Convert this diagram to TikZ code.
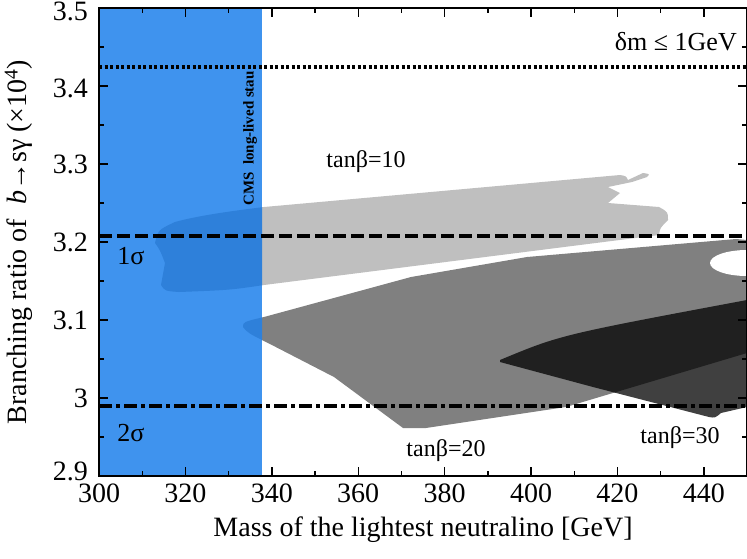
\documentclass[tikz,border=0pt]{standalone}
\usepackage{fontspec}
\setmainfont{Liberation Serif}
\begin{document}
\begin{tikzpicture}[x=1pt,y=-1pt,
  lbl/.style={inner sep=0pt,font=\fontsize{24}{28}\selectfont},
  tick/.style={inner sep=0pt,font=\fontsize{28}{32}\selectfont},
  refline/.style={line width=3.4pt}]
\useasboundingbox (0,0) rectangle (747,558);
\definecolor{blu}{HTML}{3F93EE}
\definecolor{blud}{HTML}{2E80DA}
\def\lightshape{(175,222) .. controls (200,215) and (240,210) .. (264,207) -- (620,175) .. controls (626,176) .. (628,180) -- (643,173) .. controls (650,174) .. (647,177) -- (632,182) -- (608,187) -- (620,193) -- (608,203) -- (659,207) .. controls (668,212) .. (668,220) .. controls (660,228) .. (659,235) -- (264,285) .. controls (230,290) .. (179,292) .. controls (165,291) .. (161,285) -- (165,263) .. controls (160,250) .. (155,243) .. controls (158,230) .. (175,222) -- cycle}
\def\midshape{(243,327) .. controls (243,322) .. (264,317) -- (411,277) -- (527,257) -- (736,239) -- (747,240) -- (747,353) -- (566,407) -- (426,428) -- (403,428) -- (334,377) -- (268,343) .. controls (248,333) .. (243,327) -- cycle}
\fill[black!25] \lightshape;
\fill[black!50] \midshape;
\fill[white] (747,263) ellipse [x radius=37, y radius=13];
\begin{scope}
\clip (99,8) rectangle (747,476);
\fill[black,opacity=0.75] (500,360) .. controls (560,335) .. (747,300) -- (747,407) -- (721,413) .. controls (715,418) .. (709,417) -- (593,387) -- (500,362) -- cycle;
\end{scope}
\fill[blu] (99,8) rectangle (262,476);
\begin{scope}
\clip (99,8) rectangle (262,476);
\fill[blud] \lightshape;
\fill[blud] \midshape;
\end{scope}
\draw[refline,dash pattern=on 3pt off 2.5pt] (99,67) -- (747,67);
\draw[refline,dash pattern=on 13pt off 5pt] (99,236) -- (747,236);
\draw[refline,dash pattern=on 13pt off 4pt on 4pt off 4pt] (99,406) -- (747,406);
\draw[line width=1.6pt] (99,8) rectangle (747,476);
\foreach \i in {0,...,15}{
  \pgfmathsetmacro\xx{99+\i*43.2}
  \pgfmathsetmacro\len{mod(\i,2)==0 ? 9 : 5}
  \draw[line width=1.4pt] (\xx,476) -- ++(0,-\len);
  \draw[line width=1.4pt] (\xx,8) -- ++(0,\len);
}
\foreach \i in {0,...,12}{
  \pgfmathsetmacro\yy{476-\i*39}
  \pgfmathsetmacro\len{mod(\i,2)==0 ? 9 : 5}
  \draw[line width=1.4pt] (99,\yy) -- ++(\len,0);
  \draw[line width=1.4pt] (747,\yy) -- ++(-\len,0);
}
\foreach \v [count=\i from 0] in {300,320,340,360,380,400,420,440}
  \node[tick,anchor=north] (xt\i) at (99+\i*86.4,484) {\v};
\node[tick,anchor=east] (yt0) at (88,471) {2.9};
\foreach \v [count=\i from 1] in {3,3.1,3.2,3.3}
  \node[tick,anchor=east] (yt\i) at (88,476-\i*78) {\v};
\node[tick,anchor=east] (yt5) at (88,88) {3.4};
\node[tick,anchor=north east] (yt6) at (88,2) {3.5};
\node[tick,anchor=north] (xlab) at (423,517) {Mass of the lightest neutralino [GeV]};
\node[tick,rotate=90,anchor=south] (ylab) at (33,242) {Branching ratio of \ \textit{b}→sγ (×10\textsuperscript{4})};
\node[lbl,font=\fontsize{26}{30}\selectfont,anchor=east] (dm) at (737,42) {δm ≤ 1GeV};
\node[lbl] (t10) at (366,162) {tanβ=10};
\node[lbl] (t20) at (446,451) {tanβ=20};
\node[lbl] (t30) at (680,438) {tanβ=30};
\node[lbl,font=\fontsize{26}{30}\selectfont] (s1) at (131,256) {1σ};
\node[lbl,font=\fontsize{26}{30}\selectfont] (s2) at (131,433) {2σ};
\node[inner sep=0pt,rotate=90,anchor=west,font=\bfseries\fontsize{15}{17}\selectfont] (cms) at (250,206) {CMS\ \ long-lived stau};
\end{tikzpicture}
\end{document}
